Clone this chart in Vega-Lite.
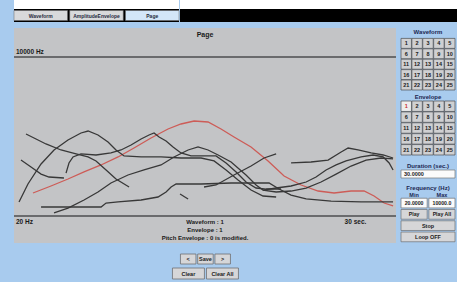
{
  "$schema": "https://vega.github.io/schema/vega-lite/v6.json",
  "padding": {"left": 13, "top": 0, "right": 0, "bottom": 6},
  "background": "#a8cbee",
  "config": {
    "view": {"stroke": null},
    "text": {"font": "Liberation Sans", "fontWeight": "bold", "color": "#1a1a1a"},
    "title": {"font": "Liberation Sans", "fontWeight": "bold", "fontSize": 6, "color": "#1c2752", "offset": 1, "anchor": "middle"}
  },
  "datasets": {
    "tabs": [{"tab": "Waveform"}, {"tab": "AmplitudeEnvelope"}, {"tab": "Page"}],
    "grid": [{"t":0},{"t":1},{"t":2},{"t":3},{"t":4},{"t":5},{"t":6},{"t":7},{"t":8},{"t":9},{"t":10},{"t":11},{"t":12},{"t":13},{"t":14},{"t":15},{"t":16},{"t":17},{"t":18},{"t":19},{"t":20},{"t":21},{"t":22},{"t":23},{"t":24},{"t":25},{"t":26},{"t":27},{"t":28},{"t":29},{"t":30},{"t":31}],
    "bounds": [{"hz": 20}, {"hz": 10000}],
    "envelopes": [
      {"id":"pitch","kind":"pitch","t":1.55,"hz":49.1},{"id":"pitch","kind":"pitch","t":3.02,"hz":64.6},{"id":"pitch","kind":"pitch","t":4.41,"hz":84.9},{"id":"pitch","kind":"pitch","t":5.72,"hz":112},{"id":"pitch","kind":"pitch","t":7.11,"hz":147},{"id":"pitch","kind":"pitch","t":8.5,"hz":201},{"id":"pitch","kind":"pitch","t":9.8,"hz":285},{"id":"pitch","kind":"pitch","t":11.19,"hz":422},{"id":"pitch","kind":"pitch","t":12.58,"hz":600},{"id":"pitch","kind":"pitch","t":13.64,"hz":729},{"id":"pitch","kind":"pitch","t":14.71,"hz":819},{"id":"pitch","kind":"pitch","t":15.85,"hz":788},{"id":"pitch","kind":"pitch","t":16.91,"hz":600},{"id":"pitch","kind":"pitch","t":17.97,"hz":439},{"id":"pitch","kind":"pitch","t":19.36,"hz":297},{"id":"pitch","kind":"pitch","t":20.75,"hz":172},{"id":"pitch","kind":"pitch","t":22.06,"hz":95.5},{"id":"pitch","kind":"pitch","t":23.45,"hz":67.2},{"id":"pitch","kind":"pitch","t":24.84,"hz":53.1},{"id":"pitch","kind":"pitch","t":26.14,"hz":49.1},{"id":"pitch","kind":"pitch","t":27.53,"hz":53.1},{"id":"pitch","kind":"pitch","t":28.59,"hz":53.1},{"id":"pitch","kind":"pitch","t":29.41,"hz":43.7},{"id":"pitch","kind":"pitch","t":30.23,"hz":33.2},{"id":"pitch","kind":"pitch","t":30.96,"hz":29.6},
      {"id":"e1","kind":"envelope","t":0.41,"hz":34.6},{"id":"e1","kind":"envelope","t":1.14,"hz":69.9},{"id":"e1","kind":"envelope","t":2.21,"hz":153},{"id":"e1","kind":"envelope","t":3.27,"hz":264},{"id":"e1","kind":"envelope","t":4.41,"hz":390},{"id":"e1","kind":"envelope","t":5.47,"hz":513},{"id":"e1","kind":"envelope","t":6.05,"hz":554},{"id":"e1","kind":"envelope","t":6.86,"hz":474},{"id":"e1","kind":"envelope","t":7.68,"hz":361},{"id":"e1","kind":"envelope","t":8.33,"hz":264},{"id":"e1","kind":"envelope","t":8.99,"hz":209},{"id":"e1","kind":"envelope","t":10.38,"hz":201},{"id":"e1","kind":"envelope","t":12.01,"hz":201},{"id":"e1","kind":"envelope","t":13.64,"hz":193},{"id":"e1","kind":"envelope","t":15.28,"hz":193},{"id":"e1","kind":"envelope","t":16.34,"hz":172},{"id":"e1","kind":"envelope","t":17.32,"hz":121},{"id":"e1","kind":"envelope","t":18.3,"hz":81.7},{"id":"e1","kind":"envelope","t":19.36,"hz":55.2},{"id":"e1","kind":"envelope","t":20.34,"hz":43.7},{"id":"e1","kind":"envelope","t":21.41,"hz":42.0},
      {"id":"e2","kind":"envelope","t":0.98,"hz":493},{"id":"e2","kind":"envelope","t":1.8,"hz":406},{"id":"e2","kind":"envelope","t":2.61,"hz":334},{"id":"e2","kind":"envelope","t":3.84,"hz":264},{"id":"e2","kind":"envelope","t":5.07,"hz":226},{"id":"e2","kind":"envelope","t":6.05,"hz":201},{"id":"e2","kind":"envelope","t":6.7,"hz":172},{"id":"e2","kind":"envelope","t":7.52,"hz":121},{"id":"e2","kind":"envelope","t":8.33,"hz":84.9},{"id":"e2","kind":"envelope","t":9.4,"hz":62.1},
      {"id":"e3","kind":"envelope","t":0.57,"hz":178},{"id":"e3","kind":"envelope","t":1.39,"hz":136},{"id":"e3","kind":"envelope","t":2.21,"hz":103},{"id":"e3","kind":"envelope","t":2.86,"hz":91.8},{"id":"e3","kind":"envelope","t":4.08,"hz":88.3},
      {"id":"e4","kind":"envelope","t":4.25,"hz":107},{"id":"e4","kind":"envelope","t":4.49,"hz":159},{"id":"e4","kind":"envelope","t":4.82,"hz":201},{"id":"e4","kind":"envelope","t":5.47,"hz":226},{"id":"e4","kind":"envelope","t":6.7,"hz":217},{"id":"e4","kind":"envelope","t":7.92,"hz":235},{"id":"e4","kind":"envelope","t":8.74,"hz":264},{"id":"e4","kind":"envelope","t":9.56,"hz":321},{"id":"e4","kind":"envelope","t":10.38,"hz":406},{"id":"e4","kind":"envelope","t":11.03,"hz":474},{"id":"e4","kind":"envelope","t":11.44,"hz":513},{"id":"e4","kind":"envelope","t":11.85,"hz":439},{"id":"e4","kind":"envelope","t":12.42,"hz":375},{"id":"e4","kind":"envelope","t":12.99,"hz":297},{"id":"e4","kind":"envelope","t":13.64,"hz":235},{"id":"e4","kind":"envelope","t":14.46,"hz":209},{"id":"e4","kind":"envelope","t":15.28,"hz":209},{"id":"e4","kind":"envelope","t":16.5,"hz":209},{"id":"e4","kind":"envelope","t":17.32,"hz":159},{"id":"e4","kind":"envelope","t":18.14,"hz":112},{"id":"e4","kind":"envelope","t":18.95,"hz":75.5},{"id":"e4","kind":"envelope","t":19.77,"hz":59.7},{"id":"e4","kind":"envelope","t":20.59,"hz":57.4},{"id":"e4","kind":"envelope","t":21.81,"hz":57.4},
      {"id":"e5","kind":"envelope","t":2.21,"hz":28.4},{"id":"e5","kind":"envelope","t":7.11,"hz":28.4},{"id":"e5","kind":"envelope","t":7.52,"hz":33.2},{"id":"e5","kind":"envelope","t":8.5,"hz":34.6},{"id":"e5","kind":"envelope","t":10.38,"hz":37.4},{"id":"e5","kind":"envelope","t":11.76,"hz":42.0},{"id":"e5","kind":"envelope","t":12.42,"hz":51.1},{"id":"e5","kind":"envelope","t":12.83,"hz":62.1},{"id":"e5","kind":"envelope","t":13.24,"hz":69.9},{"id":"e5","kind":"envelope","t":15.28,"hz":69.9},{"id":"e5","kind":"envelope","t":17.73,"hz":72.6},{"id":"e5","kind":"envelope","t":20.83,"hz":72.6},{"id":"e5","kind":"envelope","t":21.65,"hz":57.4},{"id":"e5","kind":"envelope","t":22.63,"hz":45.4},{"id":"e5","kind":"envelope","t":23.86,"hz":38.9},{"id":"e5","kind":"envelope","t":25.9,"hz":35.9},{"id":"e5","kind":"envelope","t":28.35,"hz":34.6},{"id":"e5","kind":"envelope","t":30.96,"hz":34.6},
      {"id":"e6","kind":"envelope","t":3.27,"hz":22.5},{"id":"e6","kind":"envelope","t":4.41,"hz":27.3},{"id":"e6","kind":"envelope","t":5.72,"hz":37.4},{"id":"e6","kind":"envelope","t":6.86,"hz":51.1},{"id":"e6","kind":"envelope","t":7.92,"hz":72.6},{"id":"e6","kind":"envelope","t":9.31,"hz":99.3},{"id":"e6","kind":"envelope","t":10.62,"hz":121},{"id":"e6","kind":"envelope","t":12.01,"hz":147},{"id":"e6","kind":"envelope","t":13.07,"hz":201},{"id":"e6","kind":"envelope","t":14.22,"hz":264},{"id":"e6","kind":"envelope","t":15.03,"hz":297},{"id":"e6","kind":"envelope","t":15.85,"hz":264},{"id":"e6","kind":"envelope","t":16.67,"hz":217},{"id":"e6","kind":"envelope","t":17.73,"hz":165},{"id":"e6","kind":"envelope","t":18.95,"hz":99.3},{"id":"e6","kind":"envelope","t":19.77,"hz":67.2},{"id":"e6","kind":"envelope","t":20.34,"hz":55.2},{"id":"e6","kind":"envelope","t":21.41,"hz":51.1},{"id":"e6","kind":"envelope","t":22.63,"hz":53.1},{"id":"e6","kind":"envelope","t":23.86,"hz":59.7},{"id":"e6","kind":"envelope","t":25.08,"hz":75.5},{"id":"e6","kind":"envelope","t":26.31,"hz":103},{"id":"e6","kind":"envelope","t":27.53,"hz":141},{"id":"e6","kind":"envelope","t":28.76,"hz":178},{"id":"e6","kind":"envelope","t":29.98,"hz":193},{"id":"e6","kind":"envelope","t":30.96,"hz":186},
      {"id":"e7","kind":"envelope","t":15.52,"hz":62.1},{"id":"e7","kind":"envelope","t":16.5,"hz":67.2},{"id":"e7","kind":"envelope","t":17.97,"hz":99.3},{"id":"e7","kind":"envelope","t":19.36,"hz":141},{"id":"e7","kind":"envelope","t":20.42,"hz":193},{"id":"e7","kind":"envelope","t":21.41,"hz":226},
      {"id":"e8","kind":"envelope","t":22.63,"hz":159},{"id":"e8","kind":"envelope","t":24.26,"hz":165},{"id":"e8","kind":"envelope","t":25.65,"hz":178},{"id":"e8","kind":"envelope","t":26.72,"hz":244},{"id":"e8","kind":"envelope","t":27.29,"hz":285},{"id":"e8","kind":"envelope","t":28.1,"hz":264},{"id":"e8","kind":"envelope","t":29.17,"hz":235},{"id":"e8","kind":"envelope","t":30.15,"hz":217},{"id":"e8","kind":"envelope","t":30.96,"hz":193},
      {"id":"e9","kind":"envelope","t":20.34,"hz":55.2},{"id":"e9","kind":"envelope","t":21.41,"hz":59.7},{"id":"e9","kind":"envelope","t":22.63,"hz":64.6},{"id":"e9","kind":"envelope","t":23.86,"hz":75.5},{"id":"e9","kind":"envelope","t":24.67,"hz":91.8},{"id":"e9","kind":"envelope","t":25.49,"hz":121},{"id":"e9","kind":"envelope","t":26.31,"hz":147},{"id":"e9","kind":"envelope","t":27.12,"hz":172},{"id":"e9","kind":"envelope","t":28.35,"hz":201},{"id":"e9","kind":"envelope","t":29.33,"hz":217},{"id":"e9","kind":"envelope","t":30.15,"hz":201},{"id":"e9","kind":"envelope","t":30.64,"hz":159},{"id":"e9","kind":"envelope","t":30.96,"hz":121},
      {"id":"e10","kind":"envelope","t":13.56,"hz":47.3},{"id":"e10","kind":"envelope","t":14.22,"hz":38.9}
    ],
    "selectors": [
      {"grid":"Waveform","n":1,"row":1,"col":1},{"grid":"Waveform","n":2,"row":1,"col":2},{"grid":"Waveform","n":3,"row":1,"col":3},{"grid":"Waveform","n":4,"row":1,"col":4},{"grid":"Waveform","n":5,"row":1,"col":5},
      {"grid":"Waveform","n":6,"row":2,"col":1},{"grid":"Waveform","n":7,"row":2,"col":2},{"grid":"Waveform","n":8,"row":2,"col":3},{"grid":"Waveform","n":9,"row":2,"col":4},{"grid":"Waveform","n":10,"row":2,"col":5},
      {"grid":"Waveform","n":11,"row":3,"col":1},{"grid":"Waveform","n":12,"row":3,"col":2},{"grid":"Waveform","n":13,"row":3,"col":3},{"grid":"Waveform","n":14,"row":3,"col":4},{"grid":"Waveform","n":15,"row":3,"col":5},
      {"grid":"Waveform","n":16,"row":4,"col":1},{"grid":"Waveform","n":17,"row":4,"col":2},{"grid":"Waveform","n":18,"row":4,"col":3},{"grid":"Waveform","n":19,"row":4,"col":4},{"grid":"Waveform","n":20,"row":4,"col":5},
      {"grid":"Waveform","n":21,"row":5,"col":1},{"grid":"Waveform","n":22,"row":5,"col":2},{"grid":"Waveform","n":23,"row":5,"col":3},{"grid":"Waveform","n":24,"row":5,"col":4},{"grid":"Waveform","n":25,"row":5,"col":5},
      {"grid":"Envelope","n":1,"row":1,"col":1},{"grid":"Envelope","n":2,"row":1,"col":2},{"grid":"Envelope","n":3,"row":1,"col":3},{"grid":"Envelope","n":4,"row":1,"col":4},{"grid":"Envelope","n":5,"row":1,"col":5},
      {"grid":"Envelope","n":6,"row":2,"col":1},{"grid":"Envelope","n":7,"row":2,"col":2},{"grid":"Envelope","n":8,"row":2,"col":3},{"grid":"Envelope","n":9,"row":2,"col":4},{"grid":"Envelope","n":10,"row":2,"col":5},
      {"grid":"Envelope","n":11,"row":3,"col":1},{"grid":"Envelope","n":12,"row":3,"col":2},{"grid":"Envelope","n":13,"row":3,"col":3},{"grid":"Envelope","n":14,"row":3,"col":4},{"grid":"Envelope","n":15,"row":3,"col":5},
      {"grid":"Envelope","n":16,"row":4,"col":1},{"grid":"Envelope","n":17,"row":4,"col":2},{"grid":"Envelope","n":18,"row":4,"col":3},{"grid":"Envelope","n":19,"row":4,"col":4},{"grid":"Envelope","n":20,"row":4,"col":5},
      {"grid":"Envelope","n":21,"row":5,"col":1},{"grid":"Envelope","n":22,"row":5,"col":2},{"grid":"Envelope","n":23,"row":5,"col":3},{"grid":"Envelope","n":24,"row":5,"col":4},{"grid":"Envelope","n":25,"row":5,"col":5}
    ],
    "freq": [
      {"row":"box","col":"Min","label":"20.0000"},{"row":"box","col":"Max","label":"10000.0"},
      {"row":"play","col":"Min","label":"Play"},{"row":"play","col":"Max","label":"Play All"},
      {"row":"stop","label":"Stop"},{"row":"loop","label":"Loop OFF"}
    ]
  },
  "spacing": 6,
  "vconcat": [
    {
      "spacing": 0,
      "hconcat": [
        {
          "width": 165, "height": 22,
          "view": {"fill": "#ffffff", "stroke": null},
          "layer": [
            {
              "data": {"values": [{"area": "tab bar"}]},
              "mark": {"type": "rect", "fill": "#000000"},
              "encoding": {
                "y": {"datum": "bar", "type": "nominal", "axis": null, "scale": {"paddingInner": 0, "paddingOuter": 0.346, "align": 1}}
              }
            },
            {
              "data": {"name": "tabs"},
              "mark": {"type": "rect", "stroke": "#666666", "strokeWidth": 0.5, "height": {"band": 0.77}},
              "encoding": {
                "x": {"field": "tab", "type": "nominal", "sort": null, "axis": null, "scale": {"paddingInner": 0.04, "paddingOuter": 0}},
                "y": {"datum": "bar", "type": "nominal", "axis": null},
                "fill": {"condition": {"test": "datum.tab === 'Page'", "value": "#d3e6f8"}, "value": "#d8d9db"}
              }
            },
            {
              "data": {"name": "tabs"},
              "mark": {"type": "text", "fontSize": 5, "color": "#262a40", "dy": 1},
              "encoding": {
                "x": {"field": "tab", "type": "nominal", "sort": null, "axis": null},
                "y": {"datum": "bar", "type": "nominal", "axis": null},
                "text": {"field": "tab"}
              }
            }
          ]
        },
        {
          "width": 279, "height": 22,
          "view": {"fill": "#ffffff", "stroke": null},
          "data": {"values": [{"area": "tab bar"}]},
          "layer": [
            {
              "mark": {"type": "rect", "fill": "#ffffff"},
              "encoding": {}
            },
            {
              "mark": {"type": "rect", "fill": "#000000"},
              "encoding": {
                "y": {"datum": "bar", "type": "nominal", "axis": null, "scale": {"paddingInner": 0, "paddingOuter": 0.346, "align": 1}}
              }
            }
          ]
        }
      ]
    },
    {
      "spacing": 3,
      "hconcat": [
        {
          "spacing": 10,
          "center": true,
          "vconcat": [
            {
              "width": 382, "height": 215,
              "view": {"fill": "#c3c4c6", "stroke": null},
              "encoding": {
                "y": {"field": "hz", "type": "quantitative", "scale": {"type": "log", "domain": [6.96, 31070], "nice": false}, "axis": null}
              },
              "layer": [
                {
                  "data": {"name": "grid"},
                  "mark": {"type": "rule", "color": "#9c9da0", "strokeWidth": 1},
                  "encoding": {
                    "x": {"field": "t", "type": "quantitative", "scale": {"domain": [0, 31.2], "nice": false, "zero": false}, "axis": null},
                    "y": {"datum": 20}, "y2": {"datum": 10000}
                  }
                },
                {
                  "data": {"name": "bounds"},
                  "mark": {"type": "rule", "color": "#6a6b6d", "strokeWidth": 2},
                  "encoding": {"x": {"datum": 0, "type": "quantitative", "axis": null}, "x2": {"datum": 31.2}}
                },
                {
                  "data": {"name": "envelopes"},
                  "mark": {"type": "line", "strokeWidth": 1.3},
                  "encoding": {
                    "x": {"field": "t", "type": "quantitative", "axis": null},
                    "detail": {"field": "id"},
                    "color": {"field": "kind", "type": "nominal", "scale": {"domain": ["envelope", "pitch"], "range": ["#383838", "#cd5c57"]}, "legend": null}
                  }
                },
                {
                  "data": {"values": [{"label": "Page", "hz": 10000}]},
                  "mark": {"type": "text", "baseline": "middle", "dy": -22, "fontSize": 7},
                  "encoding": {"text": {"field": "label"}}
                },
                {
                  "data": {"values": [{"label": "Waveform : 1\nEnvelope : 1\nPitch Envelope : 0 is modified.", "hz": 20}]},
                  "mark": {"type": "text", "baseline": "top", "dy": 3, "fontSize": 6, "lineBreak": "\n", "lineHeight": 8},
                  "encoding": {"text": {"field": "label"}}
                },
                {
                  "data": {"values": [{"label": "10000 Hz", "t": 0, "hz": 10000}]},
                  "mark": {"type": "text", "align": "left", "baseline": "bottom", "dx": 2, "dy": -2, "fontSize": 6.5},
                  "encoding": {"x": {"field": "t", "type": "quantitative", "axis": null}, "text": {"field": "label"}}
                },
                {
                  "data": {"values": [{"label": "20 Hz", "t": 0, "hz": 20}]},
                  "mark": {"type": "text", "align": "left", "baseline": "top", "dx": 2, "dy": 3, "fontSize": 6.5},
                  "encoding": {"x": {"field": "t", "type": "quantitative", "axis": null}, "text": {"field": "label"}}
                },
                {
                  "data": {"values": [{"label": "30 sec.", "t": 30, "hz": 20}]},
                  "mark": {"type": "text", "align": "right", "baseline": "top", "dx": -15, "dy": 3, "fontSize": 6.5},
                  "encoding": {"x": {"field": "t", "type": "quantitative", "axis": null}, "text": {"field": "label"}}
                }
              ]
            },
            {
              "spacing": 2,
              "center": true,
              "vconcat": [
                {
                  "width": 50, "height": 10,
                  "data": {"values": [{"button": "<"}, {"button": "Save"}, {"button": ">"}]},
                  "layer": [
                    {
                      "mark": {"type": "rect", "fill": "#d6d6d8", "stroke": "#6f7072", "strokeWidth": 0.8},
                      "encoding": {"x": {"field": "button", "type": "nominal", "sort": null, "axis": null, "scale": {"paddingInner": 0.1, "paddingOuter": 0}}}
                    },
                    {
                      "mark": {"type": "text", "fontSize": 5.5},
                      "encoding": {"x": {"field": "button", "type": "nominal", "sort": null, "axis": null}, "text": {"field": "button"}}
                    }
                  ]
                },
                {
                  "width": 66, "height": 11,
                  "data": {"values": [{"button": "Clear"}, {"button": "Clear All"}]},
                  "layer": [
                    {
                      "mark": {"type": "rect", "fill": "#d6d6d8", "stroke": "#6f7072", "strokeWidth": 0.8},
                      "encoding": {"x": {"field": "button", "type": "nominal", "sort": null, "axis": null, "scale": {"paddingInner": 0.06, "paddingOuter": 0}}}
                    },
                    {
                      "mark": {"type": "text", "fontSize": 5.5},
                      "encoding": {"x": {"field": "button", "type": "nominal", "sort": null, "axis": null}, "text": {"field": "button"}}
                    }
                  ]
                }
              ]
            }
          ]
        },
        {
          "spacing": 6,
          "vconcat": [
            {
              "spacing": 2,
              "vconcat": [
                {
                  "width": 54, "height": 62,
                  "layer": [
                    {
                      "data": {"name": "selectors"},
                      "transform": [{"filter": "datum.grid === 'Waveform'"}],
                      "mark": {"type": "rect", "fill": "#cfd0d2", "stroke": "#4e4f52", "strokeWidth": 0.7},
                      "encoding": {
                        "x": {"field": "col", "type": "ordinal", "axis": null, "scale": {"paddingInner": 0.04, "paddingOuter": 0}},
                        "y": {"field": "row", "type": "ordinal", "axis": null, "scale": {"domain": ["head", 1, 2, 3, 4, 5], "paddingInner": 0.04, "paddingOuter": 0}}
                      }
                    },
                    {
                      "data": {"name": "selectors"},
                      "transform": [{"filter": "datum.grid === 'Waveform'"}],
                      "mark": {"type": "text", "fontSize": 5.5},
                      "encoding": {
                        "x": {"field": "col", "type": "ordinal", "axis": null},
                        "y": {"field": "row", "type": "ordinal", "axis": null},
                        "text": {"field": "n"}
                      }
                    },
                    {
                      "data": {"values": [{"label": "Waveform"}]},
                      "mark": {"type": "text", "fontSize": 6, "color": "#1c2752", "dy": -1},
                      "encoding": {
                        "y": {"datum": "head", "type": "ordinal", "axis": null},
                        "text": {"field": "label"}
                      }
                    }
                  ]
                },
                {
                  "width": 54, "height": 54,
                  "title": "Envelope",
                  "data": {"name": "selectors"},
                  "transform": [{"filter": "datum.grid === 'Envelope'"}],
                  "layer": [
                    {
                      "mark": {"type": "rect", "stroke": "#4e4f52", "strokeWidth": 0.7},
                      "encoding": {
                        "x": {"field": "col", "type": "ordinal", "axis": null, "scale": {"paddingInner": 0.04, "paddingOuter": 0}},
                        "y": {"field": "row", "type": "ordinal", "axis": null, "scale": {"paddingInner": 0.04, "paddingOuter": 0}},
                        "fill": {"condition": {"test": "datum.n === 1", "value": "#eeeeee"}, "value": "#cfd0d2"}
                      }
                    },
                    {
                      "mark": {"type": "text", "fontSize": 5.5},
                      "encoding": {
                        "x": {"field": "col", "type": "ordinal", "axis": null},
                        "y": {"field": "row", "type": "ordinal", "axis": null},
                        "text": {"field": "n"},
                        "color": {"condition": {"test": "datum.n === 1", "value": "#c8302c"}, "value": "#1a1a1a"}
                      }
                    }
                  ]
                }
              ]
            },
            {
              "spacing": 6,
              "vconcat": [
                {
                  "width": 54, "height": 8,
                  "title": "Duration (sec.)",
                  "data": {"values": [{"setting": "Duration", "value": "30.0000"}]},
                  "layer": [
                    {"mark": {"type": "rect", "fill": "#fbfbfb", "stroke": "#77787a", "strokeWidth": 0.7}, "encoding": {}},
                    {"mark": {"type": "text", "align": "left", "dx": -24, "fontSize": 5.5}, "encoding": {"text": {"field": "value"}}}
                  ]
                },
                {
                  "width": 54, "height": 44,
                  "title": "Frequency (Hz)",
                  "data": {"name": "freq"},
                  "layer": [
                    {
                      "transform": [{"filter": "isValid(datum.col)"}],
                      "mark": {"type": "rect", "stroke": "#6f7072", "strokeWidth": 0.7},
                      "encoding": {
                        "x": {"field": "col", "type": "nominal", "scale": {"domain": ["Min", "Max"], "paddingInner": 0.06, "paddingOuter": 0},
                          "axis": {"orient": "top", "title": null, "domain": false, "ticks": false, "labelAngle": 0, "labelFontSize": 5.5, "labelFont": "Liberation Sans", "labelFontWeight": "bold", "labelColor": "#1c2752", "labelPadding": 1}},
                        "y": {"field": "row", "type": "nominal", "axis": null, "scale": {"domain": ["box", "play", "stop", "loop"], "paddingInner": 0.14, "paddingOuter": 0.02}},
                        "fill": {"condition": {"test": "datum.row === 'box'", "value": "#fbfbfb"}, "value": "#d6d6d8"}
                      }
                    },
                    {
                      "transform": [{"filter": "!isValid(datum.col)"}],
                      "mark": {"type": "rect", "fill": "#d6d6d8", "stroke": "#6f7072", "strokeWidth": 0.7},
                      "encoding": {
                        "y": {"field": "row", "type": "nominal", "axis": null}
                      }
                    },
                    {
                      "transform": [{"filter": "isValid(datum.col)"}],
                      "mark": {"type": "text", "fontSize": 5.2},
                      "encoding": {
                        "x": {"field": "col", "type": "nominal",
                          "axis": {"orient": "top", "title": null, "domain": false, "ticks": false, "labelAngle": 0, "labelFontSize": 5.5, "labelFont": "Liberation Sans", "labelFontWeight": "bold", "labelColor": "#1c2752", "labelPadding": 1}},
                        "y": {"field": "row", "type": "nominal", "axis": null},
                        "text": {"field": "label"}
                      }
                    },
                    {
                      "transform": [{"filter": "!isValid(datum.col)"}],
                      "mark": {"type": "text", "fontSize": 5.5},
                      "encoding": {
                        "y": {"field": "row", "type": "nominal", "axis": null},
                        "text": {"field": "label"}
                      }
                    }
                  ]
                }
              ]
            }
          ]
        }
      ]
    }
  ]
}
